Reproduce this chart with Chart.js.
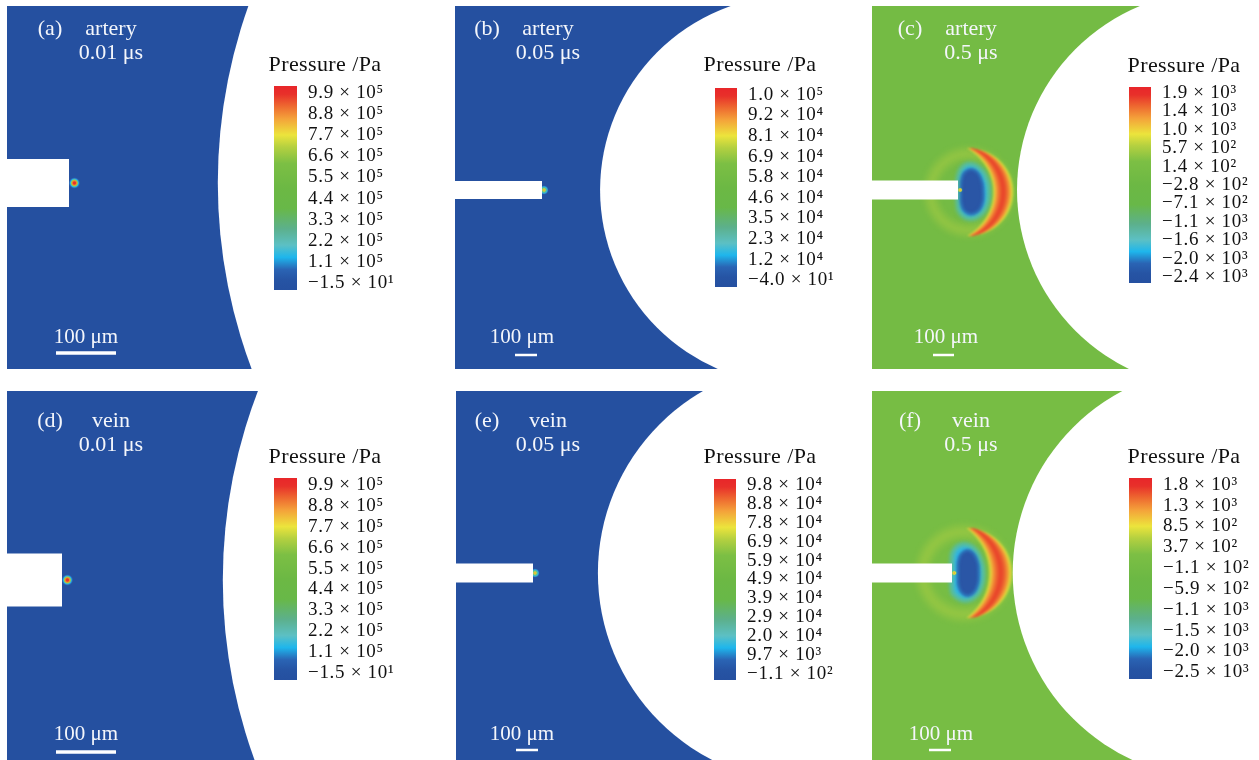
<!DOCTYPE html>
<html><head><meta charset="utf-8">
<script src="https://cdn.jsdelivr.net/npm/chart.js@4.4.1/dist/chart.umd.min.js"></script>
<style>
html,body{margin:0;padding:0;background:#fff}
#stage{position:relative;width:1259px;height:760px;overflow:hidden;background:#fff}
#stage canvas{position:absolute;display:block}
</style></head><body><div id="stage"></div>
<script>
// ================= DATA =================
const panelLetters = ['(a)', '(b)', '(c)', '(d)', '(e)', '(f)'];
const vesselLabels = ['artery', 'artery', 'artery', 'vein', 'vein', 'vein'];
const timeLabels = ['0.01 μs', '0.05 μs', '0.5 μs', '0.01 μs', '0.05 μs', '0.5 μs'];
const scaleBarUm = [100, 100, 100, 100, 100, 100];
// geometry in µm, origin at the fibre tip
const fiberDiameterUm = [80, 82, 90, 88, 86, 86];
const vesselCenterUm = [1128, 1150, 1229, 1145, 1250, 1212];
const vesselRadiusUm = [880, 886, 948, 877, 955, 936];

// colour-bar tick values (Pa), top to bottom
const ticksA = [9.9e5, 8.8e5, 7.7e5, 6.6e5, 5.5e5, 4.4e5, 3.3e5, 2.2e5, 1.1e5, -1.5e1];
const ticksB = [1.0e5, 9.2e4, 8.1e4, 6.9e4, 5.8e4, 4.6e4, 3.5e4, 2.3e4, 1.2e4, -4.0e1];
const ticksC = [1.9e3, 1.4e3, 1.0e3, 5.7e2, 1.4e2, -2.8e2, -7.1e2, -1.1e3, -1.6e3, -2.0e3, -2.4e3];
const ticksD = [9.9e5, 8.8e5, 7.7e5, 6.6e5, 5.5e5, 4.4e5, 3.3e5, 2.2e5, 1.1e5, -1.5e1];
const ticksE = [9.8e4, 8.8e4, 7.8e4, 6.9e4, 5.9e4, 4.9e4, 3.9e4, 2.9e4, 2.0e4, 9.7e3, -1.1e2];
const ticksF = [1.8e3, 1.3e3, 8.5e2, 3.7e2, -1.1e2, -5.9e2, -1.1e3, -1.5e3, -2.0e3, -2.5e3];

// pressure source spot at the fibre tip [x, y, radius] µm
const sourceA = [9, 0, 10];
const sourceB = [9, 0, 22];
const sourceC = [10, 0, 13];
const sourceD = [9, 0, 10];
const sourceE = [9, 0, 22];
const sourceF = [10, 0, 13];

// 0.5 µs wave features [cx, cy, r] µm
const haloC = [52, 10, 230];
const crescentOuterC = [62, 10, 205];
const crescentInnerC = [-79, 10, 240];
const haloF = [55, 0, 236];
const crescentOuterF = [77, 0, 200];
const crescentInnerF = [-94, 0, 257];
// negative-pressure cavity contours [x, y] µm
const cavityEdgeC = [[0,-62],[19,-105],[57,-124],[107,-100],[138,-50],[147,10],[138,72],[107,117],[57,136],[14,112],[0,72]];
const cavityCoreC = [[14,10],[19,-57],[40,-90],[76,-95],[108,-57],[120,10],[112,76],[81,110],[45,110],[19,76]];
const cavityEdgeF = [[0,-86],[23,-120],[64,-130],[106,-106],[133,-53],[142,5],[133,62],[106,106],[64,125],[23,110],[0,77]];
const cavityCoreF = [[27,0],[31,-62],[52,-95],[82,-100],[112,-62],[121,0],[112,66],[82,100],[52,95],[31,62]];

// ================= LAYOUT / STYLE =================
const TICKS = [ticksA, ticksB, ticksC, ticksD, ticksE, ticksF];
const SOURCES = [sourceA, sourceB, sourceC, sourceD, sourceE, sourceF];
const WAVES = [null, null,
  {halo: haloC, outer: crescentOuterC, inner: crescentInnerC, edge: cavityEdgeC, core: cavityCoreC},
  null, null,
  {halo: haloF, outer: crescentOuterF, inner: crescentInnerF, edge: cavityEdgeF, core: cavityCoreF}];

const LAYOUT = [
  {box:[7,6,262,363],   tip:[69,183],  k:0.60, letter:[50,29],  vessel:[111,29], time:[111,53], barText:[86,337],  bar:[86,353,3.5],   cb:{l:274,r:297,t:86,b:290,tx:325,ty:65}},
  {box:[455,6,300,363], tip:[542,190], k:0.22, letter:[487,29], vessel:[548,29], time:[548,53], barText:[522,337], bar:[526,355,2.5],  cb:{l:715,r:737,t:88,b:287,tx:760,ty:65}},
  {box:[872,6,280,363], tip:[958,190], k:0.21, letter:[910,29], vessel:[971,29], time:[971,53], barText:[946,337], bar:[943.5,355,2.5],cb:{l:1129,r:1151,t:87,b:283,tx:1184,ty:66}},
  {box:[7,391,262,369], tip:[62,580],  k:0.60, letter:[50,421], vessel:[111,421],time:[111,445],barText:[86,734],  bar:[86,752,3.5],   cb:{l:274,r:297,t:478,b:680,tx:325,ty:457}},
  {box:[456,391,300,369],tip:[533,573],k:0.22, letter:[487,421],vessel:[548,421],time:[548,445],barText:[522,734], bar:[527,750,2.5],  cb:{l:714,r:736,t:479,b:680,tx:760,ty:457}},
  {box:[872,391,280,369],tip:[952,573],k:0.22, letter:[910,421],vessel:[971,421],time:[971,445],barText:[941,734], bar:[940,750,2.5],  cb:{l:1129,r:1152,t:478,b:679,tx:1184,ty:457}}
];

const CMAP = [[0,'#2550a0'],[0.05,'#2654a4'],[0.1,'#2a64b4'],[0.16,'#1eb6ec'],[0.22,'#5cc0c4'],[0.3,'#5cb08c'],[0.4,'#68b848'],[0.5,'#6cb844'],[0.62,'#7cbf44'],[0.7,'#b4d040'],[0.76,'#ece43c'],[0.84,'#f4a23a'],[0.9,'#ee6a30'],[0.96,'#e8302a'],[1,'#e8262a']];
const SERIF = '"Liberation Serif", "DejaVu Serif", serif';
const HOT_STRONG = [[0,'#e8262a'],[0.2,'#ea3a2a'],[0.36,'#f08a30'],[0.5,'#a8cc40'],[0.66,'#28b4e6'],[0.84,'rgba(44,110,190,0.7)'],[1,'rgba(37,80,160,0)']];
const HOT_WEAK = [[0,'#f0862e'],[0.22,'#d8dc3c'],[0.46,'#5cbf90'],[0.68,'#2ab0e4'],[0.88,'rgba(44,110,190,0.6)'],[1,'rgba(37,80,160,0)']];
const TIP_SPOT = [[0,'#f29a34'],[0.45,'#e4e23c'],[1,'rgba(124,192,68,0)']];
const HALO = [[0,'rgba(230,226,60,0)'],[0.6,'rgba(230,226,60,0)'],[0.8,'rgba(214,220,64,0.32)'],[1,'rgba(214,220,64,0)']];
const CRESCENT = [[0,'rgba(226,228,60,0)'],[0.08,'rgba(232,226,58,0.85)'],[0.2,'#f29a36'],[0.36,'#ea5a2e'],[0.5,'#e8402a'],[0.66,'#ee6a30'],[0.8,'#f2a23a'],[0.9,'rgba(236,220,58,0.85)'],[1,'rgba(226,228,60,0)']];

// ================= HELPERS =================
const SUP = {'0':'⁰','1':'¹','2':'²','3':'³','4':'⁴','5':'⁵','6':'⁶','7':'⁷','8':'⁸','9':'⁹','-':'⁻'};
function sci(v) {
  if (v === 0) return '0';
  const e = Math.floor(Math.log10(Math.abs(v)) + 1e-9);
  const m = Math.abs(v) / Math.pow(10, e);
  return (v < 0 ? '−' : '') + m.toFixed(1) + ' × 10' + String(e).split('').map(c => SUP[c]).join('');
}
function hexRgb(h) { return [1,3,5].map(i => parseInt(h.slice(i, i + 2), 16)); }
function cmapAt(t) {
  t = Math.max(0, Math.min(1, t));
  for (let j = 1; j < CMAP.length; j++) {
    const [t1, c1] = CMAP[j - 1], [t2, c2] = CMAP[j];
    if (t <= t2) {
      const u = (t - t1) / (t2 - t1), a = hexRgb(c1), b = hexRgb(c2);
      return 'rgb(' + a.map((v, q) => Math.round(v + (b[q] - v) * u)).join(',') + ')';
    }
  }
  return CMAP[CMAP.length - 1][1];
}
const okNum = (...a) => a.every(v => Number.isFinite(v));
// gradient fill for a feature point; pixel mapping through the chart's scales (fallback: panel mapping)
function radialFill(stops, twoCircle, map) {
  return (ctx) => {
    const d = ctx.raw, ch = ctx.chart;
    if (!d) return 'rgba(0,0,0,0)';
    let fx = v => map.x(v), fy = v => map.y(v), s = map.k;
    const xs = ch.scales && ch.scales.x, ys = ch.scales && ch.scales.y;
    if (xs && ys && okNum(xs.getPixelForValue(0), xs.getPixelForValue(1), ys.getPixelForValue(0))) {
      fx = v => xs.getPixelForValue(v); fy = v => ys.getPixelForValue(v);
      s = Math.abs(xs.getPixelForValue(1) - xs.getPixelForValue(0));
    }
    const px = fx(d.x), py = fy(d.y);
    let g;
    if (twoCircle) g = ch.ctx.createRadialGradient(px, py, d.rUm * s, fx(d.ix), fy(d.iy), d.ir * s);
    else g = ch.ctx.createRadialGradient(px, py, 0, px, py, Math.max(0.5, d.rUm * s));
    stops.forEach(([t, c]) => g.addColorStop(t, c));
    return g;
  };
}
function pts(arr) { const p = arr.map(([x, y]) => ({x, y})); p.push({x: arr[0][0], y: arr[0][1]}); return p; }

const stage = document.getElementById('stage');
function addCanvas(l, t, w, h, z) {
  const c = document.createElement('canvas');
  c.width = w; c.height = h;
  Object.assign(c.style, {left: l + 'px', top: t + 'px', width: w + 'px', height: h + 'px', zIndex: z});
  stage.appendChild(c);
  return c;
}

// field background + soft-edged layers
const fieldPlugin = {
  id: 'field',
  beforeDatasetsDraw(chart, args, opts) {
    const ctx = chart.ctx, a = chart.chartArea;
    ctx.save(); ctx.fillStyle = opts.color; ctx.fillRect(a.left, a.top, a.right - a.left, a.bottom - a.top); ctx.restore();
    const metas = chart.getSortedVisibleDatasetMetas();
    setSoft(chart, metas[metas.length - 1]);
  },
  afterDatasetDraw(chart, args) {
    const metas = chart.getSortedVisibleDatasetMetas();
    const k = metas.findIndex(m => m.index === args.index);
    setSoft(chart, metas[k - 1]);
  },
  afterDatasetsDraw(chart) { chart.ctx.filter = 'none'; }
};
function setSoft(chart, meta) {
  const b = meta ? chart.data.datasets[meta.index].softEdge : 0;
  chart.ctx.filter = b ? 'blur(' + b + 'px)' : 'none';
}
const textPlugin = {
  id: 'texts',
  afterDraw(chart, args, opts) {
    const ctx = chart.ctx;
    ctx.save();
    ctx.filter = 'none';
    ctx.textAlign = 'center'; ctx.textBaseline = 'middle';
    (opts.items || []).forEach(it => { ctx.font = it.font; ctx.fillStyle = it.color; ctx.fillText(it.text, it.x, it.y); });
    ctx.restore();
  }
};

function makeField(i) {
  const L = LAYOUT[i];
  const [bl, bt, bw, bh] = L.box, [tx, ty] = L.tip, k = L.k;
  const cv = addCanvas(bl, bt, bw, bh, 1);
  const umX = px => (px - tx) / k, umY = py => (py - ty) / k;
  const map = {x: v => v * k + tx - bl, y: v => v * k + ty - bt, k};
  const vals = TICKS[i];
  const fieldColor = cmapAt((0 - vals[vals.length - 1]) / (vals[0] - vals[vals.length - 1]));
  const barLen = scaleBarUm[i], bx0 = umX(L.bar[0]) - barLen / 2, by = umY(L.bar[1]);
  const src = SOURCES[i];
  const srcStops = WAVES[i] ? TIP_SPOT : (i % 3 === 0 ? HOT_STRONG : HOT_WEAK);
  const spot = (order, raw, stops, two, extraR, soft) => ({
    type: 'scatter', order, data: [raw], showLine: false,
    pointRadius: raw.rUm * k + (extraR || 0), pointHoverRadius: raw.rUm * k + (extraR || 0),
    pointBackgroundColor: stops ? radialFill(stops, two, map) : '#fff', pointBorderWidth: 0, pointHoverBorderWidth: 0,
    softEdge: soft || 0
  });
  const datasets = [
    {type: 'line', order: 0, data: [{x: bx0, y: by}, {x: bx0 + barLen, y: by}], borderColor: '#fff', borderWidth: L.bar[2], borderCapStyle: 'butt', pointRadius: 0, fill: false},
    {type: 'line', order: 1, data: [{x: -6000, y: 0}, {x: 0, y: 0}], borderColor: '#fff', borderCapStyle: 'butt', pointRadius: 0, fill: false,
      borderWidth: fiberDiameterUm[i] * k},
    spot(2, {x: src[0], y: src[1], rUm: src[2]}, srcStops, false),
    spot(3, {x: vesselCenterUm[i], y: 0, rUm: vesselRadiusUm[i]}, null, false)
  ];
  const W = WAVES[i];
  if (W) {
    datasets.push(
      {type: 'line', order: 4, data: pts(W.core), fill: 'shape', backgroundColor: '#2a56a6', borderColor: 'rgba(42,90,170,0.8)', borderWidth: 2, tension: 0.45, pointRadius: 0, softEdge: 1.4},
      {type: 'line', order: 5, data: pts(W.edge), fill: 'shape', backgroundColor: '#30b6e4', borderColor: 'rgba(90,192,170,0.7)', borderWidth: 4, tension: 0.45, pointRadius: 0, softEdge: 2},
      spot(6, {x: W.outer[0], y: W.outer[1], rUm: W.outer[2], ix: W.inner[0], iy: W.inner[1], ir: W.inner[2]}, CRESCENT, true, 1, 1),
      spot(7, {x: W.halo[0], y: W.halo[1], rUm: W.halo[2]}, HALO, false, 0, 2)
    );
  }
  const F = '22px ' + SERIF;
  const items = [
    {text: panelLetters[i], x: L.letter[0] - bl, y: L.letter[1] - bt, font: F, color: '#f4f6fb'},
    {text: vesselLabels[i], x: L.vessel[0] - bl, y: L.vessel[1] - bt, font: F, color: '#f4f6fb'},
    {text: timeLabels[i], x: L.time[0] - bl, y: L.time[1] - bt, font: F, color: '#f4f6fb'},
    {text: scaleBarUm[i] + ' μm', x: L.barText[0] - bl, y: L.barText[1] - bt, font: '21px ' + SERIF, color: '#f4f6fb'}
  ];
  new Chart(cv, {
    type: 'scatter',
    data: {datasets},
    options: {
      responsive: false, animation: false, events: [], devicePixelRatio: 1,
      layout: {padding: 0, autoPadding: false},
      scales: {
        x: {type: 'linear', display: false, min: umX(bl), max: umX(bl + bw)},
        y: {type: 'linear', display: false, reverse: true, min: umY(bt), max: umY(bt + bh)}
      },
      plugins: {legend: {display: false}, tooltip: {enabled: false}, field: {color: fieldColor}, texts: {items}}
    },
    plugins: [fieldPlugin, textPlugin]
  });
}

function makeColorbar(i) {
  const C = LAYOUT[i].cb, vals = TICKS[i], n = vals.length, pad = 0.32;
  const W = 150, left = C.l - 14, top = C.ty - 22, H = C.b - top + 16;
  const cv = addCanvas(left, top, W, H, 2);
  const titlePlugin = {
    id: 'cbTitle',
    beforeDraw(chart) { try { chart.ctx.letterSpacing = '0.7px'; } catch (e) {} },
    afterDraw(chart) {
      const ctx = chart.ctx; ctx.save();
      try { ctx.letterSpacing = '0.4px'; } catch (e) {}
      ctx.font = '22px ' + SERIF; ctx.fillStyle = '#111'; ctx.textAlign = 'center'; ctx.textBaseline = 'middle';
      ctx.fillText('Pressure /Pa', C.tx - left, C.ty - top); ctx.restore();
    }
  };
  new Chart(cv, {
    type: 'bar',
    data: {labels: ['P'], datasets: [{data: [[-pad, n - 1 + pad]], barPercentage: 1, categoryPercentage: 1, borderWidth: 0,
      backgroundColor: (ctx) => {
        const a = ctx.chart.chartArea; if (!a || !okNum(a.top, a.bottom)) return '#888';
        const g = ctx.chart.ctx.createLinearGradient(0, a.bottom, 0, a.top);
        CMAP.forEach(([t, c]) => g.addColorStop(t, c)); return g;
      }}]},
    options: {
      responsive: false, animation: false, events: [], devicePixelRatio: 1,
      layout: {padding: {left: 14, top: C.t - top, bottom: 16, right: 0}, autoPadding: false},
      scales: {
        x: {display: false},
        y: {type: 'linear', position: 'right', min: -pad, max: n - 1 + pad,
          grid: {display: false}, border: {display: false},
          afterBuildTicks: (s) => { s.ticks = vals.map((_, j) => ({value: j})); },
          afterFit: (s) => { s.width = W - 14 - (C.r - C.l); },
          ticks: {padding: 3, color: '#111', autoSkip: false, font: {family: SERIF, size: 19},
            callback: (v) => sci(vals[n - 1 - v])}}
      },
      plugins: {legend: {display: false}, tooltip: {enabled: false}}
    },
    plugins: [titlePlugin]
  });
}

function build() {
  for (let i = 0; i < 6; i++) {
    try { makeField(i); } catch (e) { console.error(e); }
    try { makeColorbar(i); } catch (e) { console.error(e); }
  }
}
const fontReady = document.fonts ? Promise.all([
  document.fonts.load('20px "Liberation Serif"'), document.fonts.load('22px "Liberation Serif"')]).catch(() => {}) : Promise.resolve();
fontReady.then(build);
</script></body></html>
